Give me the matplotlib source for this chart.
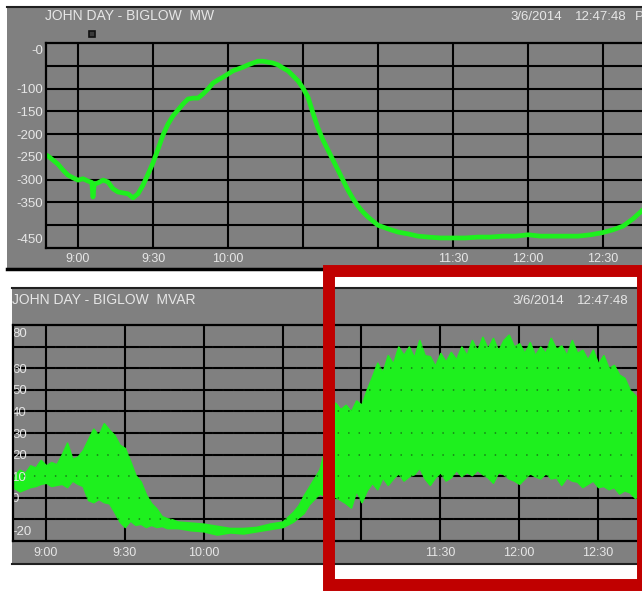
import matplotlib.pyplot as plt
import matplotlib.transforms as mtransforms
from matplotlib.patches import Rectangle
from matplotlib.lines import Line2D
import numpy as np

# minutes after 9:00
time_ticks = [0, 30, 60, 90, 120, 150, 180, 210]
time_labels = ["9:00", "9:30", "10:00", "", "", "11:30", "12:00", "12:30"]

# JOHN DAY - BIGLOW  MW
mw_t = [-12.8, -12, -10, -8, -6, -4, -2, 0, 2, 4, 5.5, 6, 6.5, 8, 10, 12, 14, 16, 18, 20,
        22, 24, 26, 28, 30, 32, 34, 36, 38, 40, 42, 44, 46, 48, 50, 52, 54, 56, 58, 60,
        62, 64, 66, 68, 70, 72, 74, 76, 78, 80, 82, 84, 86, 88, 90, 92, 94, 96, 98, 100,
        102, 104, 106, 108, 110, 112, 114, 116, 118, 120, 124, 128, 132, 136, 140, 145,
        150, 155, 160, 165, 170, 175, 180, 185, 190, 195, 200, 205, 210, 214, 218, 222,
        225.6]
mw_val = [-246, -248, -257, -266, -279, -290, -296, -301, -298, -303, -306, -338, -310,
          -307, -301, -305, -320, -327, -329, -331, -340, -331, -312, -288, -263, -233,
          -202, -178, -160, -147, -134, -123, -121, -121, -112, -101, -88, -81, -75, -68,
          -61, -57, -53, -48, -44, -40, -40, -42, -44, -48, -55, -61, -72, -83, -99, -119,
          -154, -187, -213, -235, -257, -279, -301, -323, -342, -358, -371, -382, -391,
          -400, -408, -415, -419, -424, -426, -428, -428, -428, -426, -426, -424, -424,
          -421, -424, -424, -424, -424, -421, -416, -410, -402, -386, -368]
mw_ticks = [0, -100, -150, -200, -250, -300, -350, -450]
mw_labels = ["-0", "-100", "-150", "-200", "-250", "-300", "-350", "-450"]

# JOHN DAY - BIGLOW  MVAR, swing extremes of the oscillating signal
mvar_t = [-12, -10, -8, -6, -4, -2, 0, 2, 4, 6, 8, 10, 12, 14, 16, 18, 20, 22, 24, 26,
          28, 30, 32, 34, 36, 38, 40, 42, 44, 46, 48, 50,
          55, 60, 65, 70, 75, 80, 85, 90,
          94, 96, 98, 100, 102, 104, 106, 108, 110, 112, 114, 116, 118, 120, 122, 124,
          126, 128, 130, 132, 134, 136, 138, 140, 142, 144, 146, 148, 150, 152, 154, 156,
          158, 160, 162, 164, 166, 168, 170, 172, 174, 176, 178, 180, 182, 184, 186, 188,
          190, 192, 194, 196, 198, 200, 202, 204, 206, 208, 210, 212, 214, 216, 218, 220,
          222, 224, 226]
mvar_hi = [10.5, 13, 11.5, 15, 14, 17.5, 15, 16.5, 15.5, 20, 25.5, 18, 19, 22, 27, 32,
           29, 34.5, 31.5, 29, 24.5, 23, 17, 10.5, 7.5, 1.5, -2.5, -5, -8.5, -9.5, -10, -11,
           -11.5, -12, -13, -14, -14, -13.5, -12, -11,
           -6.5, -3.5, 1, 5, 9, 13, 22, 32, 44, 41, 43, 40, 45, 43, 50, 56,
           62.5, 58, 66, 62, 70, 66, 70, 65, 73, 66, 65.5, 61, 67, 63, 67.5, 64,
           70, 66, 73, 68, 74.5, 69, 74, 68, 73, 75.5, 70, 71.5, 67, 72, 66, 70,
           67, 74, 69, 70.5, 66, 73, 67, 68.5, 64, 68.5, 62, 66, 60, 61.5, 57, 55.5,
           50, 47.5, 44]
mvar_lo = [4.5, 3, 4, 5, 5.5, 6.5, 7, 5.5, 6, 6.5, 5, 8, 6.5, 5.5, -1, -2, -0.5, -2,
           -2.5, -6.5, -11, -13.5, -10.5, -12.5, -12, -13.5, -12.5, -13.5, -13, -14, -14, -14,
           -15, -15.5, -17, -16, -16.5, -15.5, -14.5, -13.5,
           -11, -9, -7, -3, -0.5, 2, 1, 0, 0.5, -1, -2.5, -4.5, 3.5, -2, 3.5, 7,
           4, 9.5, 6, 9, 11.5, 8, 10, 11, 14, 9, 6, 9.5, 12, 8, 9.5, 13,
           10, 12, 10.5, 13, 11, 9.5, 7, 12, 11, 9, 8, 6.5, 9, 11.5, 10, 9,
           11.5, 9, 9.5, 6, 9.5, 8, 7.5, 5, 6.5, 8, 5, 5.5, 4, 5, 2, 3.5,
           2.5, 0, 1]
mvar_ticks = [80, 60, 50, 40, 30, 20, 10, 0, -20]

W, H = 642, 592
GRAY = '#808080'
LIGHT = '#e6e6e6'
GREEN = '#1ef01e'
RED = '#c00000'

plt.rcParams['font.family'] = ['Liberation Sans', 'DejaVu Sans']

fig = plt.figure(figsize=(W / 100, H / 100), dpi=100)
fig.patch.set_facecolor('white')


def frac(x0, y0, x1, y1):
    # pixel box, origin top-left -> [left, bottom, width, height] in figure fraction
    return [x0 / W, 1 - y1 / H, (x1 - x0) / W, (y1 - y0) / H]


def panel(x0, y0, x1, y1):
    l, b, w, h = frac(x0, y0, x1, y1)
    fig.add_artist(Rectangle((l, b), w, h, transform=fig.transFigure,
                             facecolor=GRAY, edgecolor='none', zorder=-2))


def hline(x0, x1, y, lw, color='#202020'):
    fig.add_artist(Line2D([x0 / W, x1 / W], [1 - y / H, 1 - y / H],
                          transform=fig.transFigure, color=color, lw=lw, zorder=-1))


def ftext(x, y, s, size=10, **kw):
    fig.text(x / W, 1 - y / H, s, color=LIGHT, fontsize=size, va='center', **kw)


def setup(ax, xlim, ylim, grid_y, pad):
    ax.set_facecolor(GRAY)
    ax.set_xlim(*xlim)
    ax.set_ylim(*ylim)
    ax.set_xticks(time_ticks, time_labels)
    ax.set_yticks(grid_y)
    ax.tick_params(length=0, colors=LIGHT, labelsize=9, pad=pad, labelleft=False)
    ax.grid(True, color='black', lw=1.5)
    ax.set_axisbelow(True)
    for s in ['left', 'top', 'bottom']:
        ax.spines[s].set_color('black')
        ax.spines[s].set_linewidth(1.6)
    ax.spines['right'].set_visible(False)


# window backgrounds
panel(7, 6, 643, 268)
hline(7, 643, 6.5, 1.5)
hline(7, 643, 268.5, 2.5, 'black')
panel(12, 287, 643, 563)
hline(12, 643, 287.5, 1.5)
hline(12, 643, 563.5, 1.5)

# --- MW trend ---
ax1 = fig.add_axes(frac(46, 43, 642, 248))
setup(ax1, (-12.8, 225.6), (-450, 0), np.arange(-400, 0, 50), 3.8)
ax1.plot(mw_t, mw_val, color=GREEN, lw=3.4, solid_joinstyle='round', zorder=2)

ytr = ax1.get_yaxis_transform()
for v, lab in zip(mw_ticks, mw_labels):
    va, dy = 'center_baseline', 0
    if v == mw_ticks[0]:
        va, dy = 'top', -2
    elif v == mw_ticks[-1]:
        va, dy = 'baseline', 5
    tr = mtransforms.offset_copy(ytr, fig=fig, x=-3, y=dy, units='dots')
    ax1.text(0, v, lab, transform=tr, ha='right', va=va, color=LIGHT, fontsize=9.5)

ftext(45, 15.5, "JOHN DAY - BIGLOW  MW")
ftext(510, 17, "3/6/2014", size=9.5)
ftext(575, 17, "12:47:48", size=9.5)
ftext(635, 17, "P", size=9.5)
l, b, w, h = frac(89, 31, 95, 37)
fig.add_artist(Rectangle((l, b), w, h, transform=fig.transFigure,
                         facecolor='#3a3a3a', edgecolor='#101010', lw=1.2, zorder=1))

# --- MVAR trend ---
ax2 = fig.add_axes(frac(13, 325, 642, 541))
setup(ax2, (-12.55, 226.7), (-20, 80), np.arange(-10, 80, 10), 4.3)
ax2.fill_between(mvar_t, mvar_lo, mvar_hi, color=GREEN, lw=1.2, edgecolor=GREEN,
                 zorder=2)
# grid shows through the dense trace as dark dots
ax2.hlines(np.arange(-10, 80, 10), -12.55, 226.7, color='#101010', lw=1.3,
           linestyles=(0, (0.8, 5)), alpha=0.45, zorder=3)

ytr2 = ax2.get_yaxis_transform()
for v in mvar_ticks:
    va, dy = 'center_baseline', 0
    if v == mvar_ticks[0]:
        va, dy = 'top', -3
    elif v == mvar_ticks[-1]:
        va, dy = 'baseline', 6
    tr = mtransforms.offset_copy(ytr2, fig=fig, x=-1, y=dy, units='dots')
    ax2.text(0, v, str(v), transform=tr, ha='left', va=va, color=LIGHT,
             fontsize=9.5, clip_on=True, zorder=2)

ftext(12, 300.5, "JOHN DAY - BIGLOW  MVAR")
ftext(512, 301, "3/6/2014", size=9.5)
ftext(577, 301, "12:47:48", size=9.5)

# highlight frame around the late-morning swings
l, b, w, h = frac(328.5, 271, 643, 585)
fig.add_artist(Rectangle((l, b), w, h, transform=fig.transFigure, fill=False,
                         edgecolor=RED, lw=8.6, joinstyle='miter', zorder=10))

fig.savefig('out.png', dpi=100)
